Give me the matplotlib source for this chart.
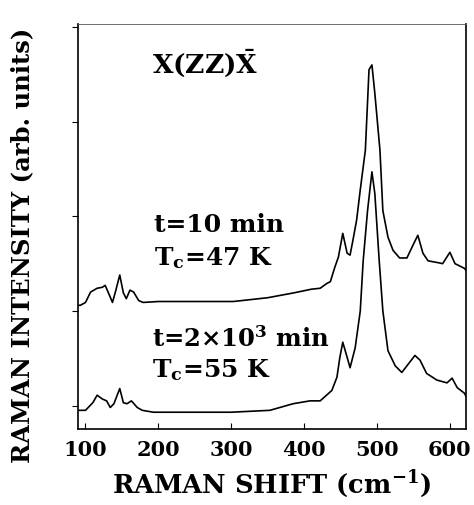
import matplotlib
matplotlib.use("Agg")
import matplotlib.pyplot as plt
import numpy as np

plt.rcParams["font.family"] = ["DejaVu Serif"]
plt.rcParams["mathtext.fontset"] = "dejavuserif"
plt.rcParams["mathtext.default"] = "bf"

# t = 10 min spectrum (upper, offset)
shift_10 = [90, 93, 100, 107, 116, 123, 127, 131, 137, 141, 147, 152, 156, 161, 166, 173, 179,
            200, 250, 303, 350, 385, 410, 422, 431, 436, 442, 447, 453, 459, 463, 467, 472, 477,
            484, 489, 493, 497, 504, 508, 515, 522, 531, 541, 549, 556, 563, 570, 584, 590, 600,
            607, 620, 622]
int_10 = [1.06, 1.06, 1.09, 1.20, 1.24, 1.25, 1.27, 1.20, 1.09, 1.20, 1.38, 1.19, 1.13, 1.22,
          1.20, 1.11, 1.09, 1.10, 1.10, 1.10, 1.14, 1.19, 1.23, 1.24, 1.29, 1.31, 1.46, 1.57,
          1.82, 1.61, 1.59, 1.75, 1.96, 2.28, 2.70, 3.55, 3.60, 3.30, 2.70, 2.06, 1.78, 1.64,
          1.56, 1.56, 1.69, 1.80, 1.61, 1.53, 1.51, 1.50, 1.62, 1.50, 1.45, 1.43]

# t = 2x10^3 min spectrum (lower)
shift_2k = [90, 100, 110, 116, 123, 129, 134, 139, 147, 152, 157, 163, 171, 178, 193, 250, 300,
            353, 385, 408, 422, 438, 445, 449, 453, 459, 463, 470, 477, 481, 487, 493, 497, 503,
            508, 515, 525, 534, 543, 552, 559, 568, 582, 596, 603, 610, 620, 622]
int_2k = [-0.05, -0.05, 0.03, 0.11, 0.07, 0.05, -0.02, 0.02, 0.18, 0.03, 0.02, 0.05, -0.02,
          -0.05, -0.07, -0.07, -0.07, -0.05, 0.02, 0.05, 0.05, 0.16, 0.30, 0.51, 0.67, 0.51,
          0.40, 0.61, 1.00, 1.53, 2.06, 2.47, 2.24, 1.53, 1.00, 0.58, 0.42, 0.35, 0.44, 0.53,
          0.48, 0.34, 0.27, 0.24, 0.29, 0.19, 0.13, 0.10]

xticks = [100, 200, 300, 400, 500, 600]
yticks = [0, 1, 2, 3, 4]

fig = plt.figure(figsize=(4.74, 5.05), dpi=100)
ax = fig.add_axes([0.165, 0.150, 0.818, 0.802])

ax.plot(shift_10, int_10, color="black", linewidth=1.2)
ax.plot(shift_2k, int_2k, color="black", linewidth=1.2)

ax.set_xlim(90, 622)
ax.set_ylim(-0.25, 4.03)
ax.set_xticks(xticks)
ax.set_xticklabels([str(v) for v in xticks], fontsize=15, fontweight="bold")
ax.set_yticks(yticks)
ax.set_yticklabels([])
ax.tick_params(axis="x", direction="in", length=4, pad=8)
ax.tick_params(axis="y", direction="out", length=4)

for side in ["left", "bottom", "right"]:
    ax.spines[side].set_linewidth(1.2)
ax.spines["top"].set_linewidth(0.6)
ax.spines["top"].set_color("#555555")

ax.set_xlabel(r"RAMAN SHIFT (cm$^{-1}$)", fontsize=18.5, fontweight="bold", labelpad=6)
ax.set_ylabel("RAMAN INTENSITY (arb. units)", fontsize=17.5, fontweight="bold")
ax.yaxis.set_label_coords(-0.113, 0.455)

ax.text(0.19, 0.905, r"X(ZZ)$\bar{\mathbf{X}}$", transform=ax.transAxes,
        fontsize=19, fontweight="bold", va="center")
ax.text(0.195, 0.505, "t=10 min", transform=ax.transAxes,
        fontsize=18, fontweight="bold", va="center")
ax.text(0.195, 0.423, r"T$_\mathbf{c}$=47 K", transform=ax.transAxes,
        fontsize=18, fontweight="bold", va="center")
ax.text(0.19, 0.222, r"t=2$\times$10$^\mathbf{3}$ min", transform=ax.transAxes,
        fontsize=17.5, fontweight="bold", va="center")
ax.text(0.19, 0.146, r"T$_\mathbf{c}$=55 K", transform=ax.transAxes,
        fontsize=18, fontweight="bold", va="center")

fig.savefig("out.png", dpi=100)
